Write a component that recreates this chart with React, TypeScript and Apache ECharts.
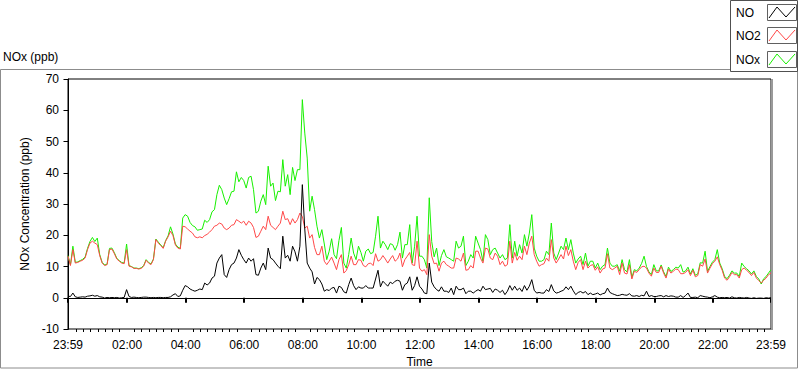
import React, { useEffect, useRef } from "react";
import * as echarts from "echarts";

// Time grid: first sample at 23:59 (-1 min), one sample every 5 minutes up to 23:59 (1439 min)
const TIME_START_MIN = -1;
const TIME_STEP_MIN = 5;

const NO_PPB = [
  0.5, 0.4, 1.5, 0.3, 0.1, 0.2, 0.3, 0.2, 0.5, 0.6,
  0.8, 0.5, 0.7, 0.3, 0.2, -0.1, 0.1, 0.0, 0.1, 0.0,
  0.1, -0.1, 0.0, 0.1, 2.6, 0.4, 0.1, 0.2, 0.1, 0.0,
  0.1, 0.2, 0.2, 0.1, 0.0, 0.1, 0.0, 0.1, 0.1, 0.0,
  0.1, 0.1, 0.3, 0.9, 1.3, 0.4, 0.6, 2.4, 3.9, 3.5,
  2.8, 2.4, 2.1, 2.4, 2.8, 2.6, 4.7, 4.1,
  4.7, 6.3, 6.9, 11.1, 12.7, 13.8, 7.4, 6.5, 9, 10.6,
  11.1, 12.7, 15.4, 13.6, 12.2, 11.1, 12.7, 11.7, 12.5, 7.4,
  7.2, 9.5, 11.1, 9, 15.9, 12.7, 12.2, 11.1, 10.1, 9.3,
  19.7, 12.7, 13.6, 11.7, 16.5, 14.7, 11.7, 16.5, 36.2, 22,
  11.1, 9.5, 8.3, 4.4, 6.5, 5.8, 4.4, 2.1, 2.6, 2.3,
  3.1, 3.3, 1.5, 3.7, 3.3, 1.9, 1.5,
  4.2, 6.3, 3.9, 2.6, 3.5, 3.1, 3.1, 3.9, 3.1, 3.1,
  3.1, 6, 8.8, 3.5, 5.3, 4.5, 3.7, 5, 4.5, 5.3,
  5.6, 5.3, 2.4, 4.2, 4.7, 6.7, 2.4, 3.9, 6.7, 3.7,
  2.8, 1.5, 1.3, 11.1, 5, 3.5, 2.6, 2.1, 3.5, 2.1,
  2.1, 1.7, 3.1, 1, 3.7, 2.6, 2.6, 3.1, 1.3, 2.1,
  2.1, 1.5, 2.1, 2.6, 2.1, 3.7, 2.6, 2.8,
  3, 1.7, 2.8, 2.4, 1.7, 2.4, 1, 2.1, 3.9, 2.4,
  3.7, 2.4, 3.1, 2, 3.9, 2.4, 3.7, 5.8, 2.4, 1.5,
  1.7, 1.5, 1.5, 2.6, 2, 4.2, 2.2, 1.5, 1.7, 2.1,
  2.4, 3.5, 2.6, 3.7, 2.2, 1, 1.7, 2, 1.5, 2,
  1, 1.5, 1, 1.2, 1.5, 0.9, 1.3, 1.5, 3.1, 1.7,
  1.3, 1, 0.7, 0.8, 1.1, 0.9, 0.8,
  1.3, 0.6, 0.5, 0.7, 0.4, 0.8, 0.6, 2.1, 0.4, 0.7,
  0.4, 0.4, 0.6, 0.7, 0.3, 0.7, 0.4, 0.6, 0.5, 0.2,
  0.2, 0.7, 0.1, 0.7, 1.5, 0.1, 0.1, 0.2, 0.0, 0.7,
  0.5, 0.3, 0.2, 0.0, 0.3, 0.7, 0.2, 0.0, 0.1, 0.0,
  0.1, -0.1, 0.3, 0.0, -0.1, 0.1, 0.0, -0.1, 0.1, -0.1,
  -0.2, 0.0, -0.2, -0.1, -0.1, -0.2, 0.0, -0.1, 0.0,
];

const NO2_PPB = [
  13.3, 10.3, 15.4, 11.1, 11.3, 11.7, 12, 12.7, 15.4, 17.5,
  18.1, 17.5, 17, 13.5, 11.1, 10.3, 10.6, 15.4, 15.6, 14.1,
  12.4, 11.7, 11.1, 10.9, 15.4, 10.1, 9.9, 9.4, 9.4, 9.2,
  9.4, 10.1, 12, 11.1, 10.6, 12.2, 18.6, 17.5, 16.7, 15.8,
  18.1, 19.5, 21.3, 19.9, 16.9, 15.9, 15.6, 22.9, 22.7, 22,
  21.3, 20.7, 19.5, 19.2, 19.5, 19.2, 19.9, 20.3,
  21, 21.8, 22.9, 23.2, 23.9, 23.6, 22.3, 21.8, 22.3, 23.2,
  23.4, 25, 24.5, 23.9, 24.5, 23.2, 24.5, 23.9, 22.5, 19.3,
  19.7, 21.3, 22.9, 21.8, 26.1, 23.2, 22.5, 21.8, 22.9, 23.9,
  27.7, 25, 25.3, 23.4, 25.3, 23.9, 25, 27.1, 26, 22.3,
  22.9, 19.1, 20.2, 16.1, 13.8, 13.8, 16.5, 11.7, 10.6, 11.7,
  13, 11.1, 9, 12.2, 13.8, 7.9, 8.7,
  10.6, 13.3, 10.6, 10.6, 12.2, 12, 10.3, 9.9, 10.9, 11.1,
  10.3, 14.1, 11.7, 12.2, 13.5, 12.4, 11.1, 12.4, 13.5, 11.7,
  12.4, 14.3, 9.9, 12.2, 13.3, 14.5, 10.6, 10.3, 18.1, 9.5,
  8.5, 9, 7.4, 20.2, 13.3, 10.9, 11.1, 8.5, 11.1, 11.7,
  10.6, 10.1, 9.5, 9.5, 12.7, 12.4, 11.7, 14.3, 8.8, 9,
  10.3, 9.5, 14.9, 14.9, 12.7, 11.1, 15.9, 15.6,
  12.7, 12.2, 14.3, 13.3, 10.6, 11.7, 10.1, 10.6, 18.1, 11.1,
  14.5, 12, 13.3, 12.2, 16.5, 13.8, 17.5, 19.7, 13.8, 11.7,
  10.1, 10.6, 10.9, 12.7, 11.7, 18.6, 12.7, 11.1, 12.4, 13.8,
  12.4, 16.5, 13.5, 15.4, 11.7, 9, 11.3, 12.2, 9, 11.7,
  9.5, 10.3, 10.6, 8.8, 9.9, 7.9, 9.2, 9.5, 14.1, 9.5,
  9, 9.5, 10.1, 7.4, 11.1, 7.9, 7.6,
  10.6, 6, 8.5, 8.1, 9, 9.9, 10.1, 9.5, 7.9, 6.9,
  9.5, 8.1, 8.1, 10.1, 7.9, 6.3, 9.2, 7.9, 8.5, 9.2,
  9, 7.7, 7.7, 8.1, 9, 7.1, 8.8, 6.7, 7.1, 10.6,
  10.1, 12.4, 7.9, 9.5, 10.9, 11.7, 13.1, 10.6, 8.8, 6.3,
  5.6, 6.7, 8.1, 7.4, 7.4, 6.3, 9, 9.5, 8.8, 8.1,
  7.1, 8.1, 6.3, 5.5, 4.7, 5.6, 6.3, 7.4, 7.9,
];

const NOX_PPB = [
  13.5, 10.5, 16.5, 11.3, 11.5, 11.9, 12.3, 13, 15.8, 18,
  19.3, 18, 19.1, 13.8, 11.3, 10.5, 10.7, 15.8, 15.9, 14.4,
  12.6, 11.9, 11.3, 11.1, 17.2, 10.3, 10, 9.5, 9.5, 9.3,
  9.6, 10.3, 12.2, 11.3, 10.8, 12.4, 18.8, 17.8, 16.9, 16,
  18.3, 19.8, 22.7, 20.4, 17.2, 16.2, 15.8, 25.5, 26.6, 26.1,
  24.1, 23.1, 22.7, 21.6, 21.8, 22, 24.8, 24.1,
  25, 27.5, 28.2, 33, 36, 34.6, 31.9, 29.8, 31.7, 33.9,
  34.1, 40.3, 37.1, 38.5, 37.5, 35.1, 38.5, 38.9, 34.6, 27.1,
  27.7, 30.9, 33, 29.8, 42.1, 35.7, 36.7, 31.1, 34.1, 33.9,
  44.2, 35.7, 39.4, 33, 41.7, 37.5, 41, 41, 63.4, 52.7,
  44.7, 27.7, 32.5, 28.2, 22.9, 19.1, 21.8, 17.2, 12.2, 14.9,
  18.9, 13.8, 12.5, 18.3, 22.5, 11.1, 9.5,
  13.8, 19.1, 14.3, 12.2, 16.5, 14.5, 11.7, 14.9, 15.6, 14.1,
  14.5, 19.7, 26.1, 15.9, 18.1, 17, 15.4, 17.3, 17, 15.2,
  17, 21, 12.7, 17, 17, 23.4, 11.1, 16.5, 26.1, 13.3,
  13.3, 12.2, 9.5, 32, 18, 13.1, 15.9, 10.3, 13.5, 15.4,
  13.1, 12.7, 12.2, 11.7, 18.1, 15.9, 16.5, 19.7, 10.3, 11.7,
  13.8, 12.7, 19.7, 17.5, 15.4, 11.7, 20.2, 18.6,
  13.8, 15.4, 15.9, 14.3, 12.7, 13.8, 12.2, 12.7, 23.4, 12.7,
  18.1, 13.3, 17, 14.3, 20.2, 16.5, 20.7, 26.6, 15.9, 13.3,
  11.7, 11.7, 12.2, 14.9, 13.8, 23.9, 14.3, 12.2, 14.3, 16.5,
  15.4, 19.1, 15.4, 18.6, 14.3, 11.1, 12.4, 13.3, 10.6, 14.3,
  10.1, 11.7, 11.7, 9.5, 11.1, 9, 10.1, 10.6, 15.9, 11.1,
  10.1, 10.1, 10.6, 8.5, 12.2, 9, 8.3,
  12.2, 6.5, 9, 8.6, 9.5, 11, 13.3, 10, 8.3, 7.4,
  10.6, 8.6, 8.6, 10.5, 8.3, 6.8, 9.8, 8.4, 9, 9.8,
  9.5, 10.6, 8.2, 8.6, 9.8, 7.6, 9.3, 7.2, 7.6, 11.2,
  11.1, 14.9, 8.4, 10, 11.4, 12.2, 15.4, 11.1, 9.3, 6.8,
  6.1, 7.2, 8.6, 7.9, 7.9, 6.8, 11.1, 10, 9.3, 8.6,
  7.6, 8.6, 6.8, 6, 4.4, 6.1, 6.8, 7.9, 9,
];

const TICK_MINUTES = [-1, 120, 240, 360, 480, 600, 720, 840, 960, 1080, 1200, 1320, 1439];
const TICK_LABELS = ["23:59", "02:00", "04:00", "06:00", "08:00", "10:00", "12:00", "14:00", "16:00", "18:00", "20:00", "22:00", "23:59"];

const SERIES_NAMES = ["NO", "NO2", "NOx"];
const SERIES_COLORS = ["#000000", "#ff4848", "#18f000"];

const FONT = "'Liberation Sans', Arial, sans-serif";

function toPoints(values: number[]) {
  return values.map((v, i) => [TIME_START_MIN + i * TIME_STEP_MIN, v]);
}

export default function App() {
  const ref = useRef<HTMLDivElement>(null);

  useEffect(() => {
    if (!ref.current) return;
    const chart = echarts.init(ref.current, null, { renderer: "svg" });

    const minorTicks: number[] = [];
    for (let m = 15; m < 1440; m += 15) {
      if (m % 120 !== 0) minorTicks.push(m);
    }

    const legendRows = [0, 23, 47];
    const legendGraphics: any[] = [
      {
        type: "rect",
        shape: { x: 730.5, y: 0.5, width: 67, height: 71 },
        style: { fill: "#ffffff", stroke: "#505050", lineWidth: 1 },
        z: 10,
      },
    ];
    SERIES_NAMES.forEach((name, k) => {
      const dy = legendRows[k];
      legendGraphics.push(
        {
          type: "text",
          x: 736,
          y: 13 + dy,
          style: {
            text: name,
            fill: "#000",
            font: `12px ${FONT}`,
            verticalAlign: "middle",
          },
          z: 11,
        },
        {
          type: "rect",
          shape: { x: 767.5, y: 4.5 + dy, width: 29, height: 16 },
          style: { fill: "#ffffff", stroke: "#606060", lineWidth: 1 },
          z: 11,
        },
        {
          type: "polyline",
          shape: {
            points: [
              [769, 18 + dy],
              [777, 7 + dy],
              [786, 17 + dy],
              [795, 7 + dy],
            ],
          },
          style: { stroke: SERIES_COLORS[k], lineWidth: 1, fill: "none" },
          z: 12,
        }
      );
    });

    const option: any = {
      animation: false,
      backgroundColor: "#ffffff",
      textStyle: { fontFamily: FONT },
      title: {
        text: "NOx (ppb)",
        left: 3,
        top: 51,
        padding: 0,
        textStyle: { fontSize: 12, fontWeight: "normal", color: "#000", fontFamily: FONT },
      },
      grid: {
        left: 68,
        right: 29,
        top: 79,
        bottom: 40,
        containLabel: false,
        outerBoundsMode: "none",
        show: true,
        borderColor: "#000",
        borderWidth: 1,
        backgroundColor: "#ffffff",
      },
      xAxis: [
        {
          type: "value",
          min: -1,
          max: 1439,
          name: "Time",
          nameLocation: "middle",
          nameGap: 24,
          nameTextStyle: { fontSize: 12, color: "#000", fontFamily: FONT },
          splitLine: { show: false },
          axisLine: { show: true, lineStyle: { color: "#000", width: 1 } },
          axisTick: {
            show: true,
            customValues: TICK_MINUTES,
            length: 5,
            lineStyle: { color: "#000", width: 2 },
          },
          axisLabel: {
            show: true,
            customValues: TICK_MINUTES,
            showMinLabel: true,
            showMaxLabel: true,
            hideOverlap: false,
            margin: 10,
            fontSize: 12,
            color: "#000",
            fontFamily: FONT,
            formatter: (v: number) => {
              const idx = TICK_MINUTES.indexOf(Math.round(v));
              return idx >= 0 ? TICK_LABELS[idx] : "";
            },
          },
        },
        {
          type: "value",
          min: -1,
          max: 1439,
          position: "bottom",
          splitLine: { show: false },
          axisLine: { show: false },
          axisLabel: { show: false },
          axisTick: {
            show: true,
            customValues: minorTicks,
            length: 3,
            lineStyle: { color: "#000", width: 1 },
          },
        },
      ],
      yAxis: {
        type: "value",
        min: -10,
        max: 70,
        interval: 10,
        name: "NOx Concentration (ppb)",
        nameLocation: "middle",
        nameRotate: 90,
        nameGap: 27,
        nameTextStyle: { fontSize: 12, color: "#000", fontFamily: FONT },
        splitLine: { show: false },
        axisLine: { show: true, lineStyle: { color: "#000", width: 1 } },
        axisTick: { show: true, length: 5, lineStyle: { color: "#000", width: 1 } },
        axisLabel: { fontSize: 12, color: "#000", margin: 9, fontFamily: FONT },
      },
      graphic: [
        {
          type: "rect",
          shape: { x: 0.5, y: 69.5, width: 797, height: 298.5 },
          style: { fill: "none", stroke: "#8c8c8c", lineWidth: 1 },
          z: 1,
        },
        {
          type: "line",
          shape: { x1: 772, y1: 79, x2: 772, y2: 330 },
          style: { stroke: "#9a9a9a", lineWidth: 2 },
          z: 9,
        },
        ...legendGraphics,
      ],
      series: [
        {
          name: SERIES_NAMES[2],
          type: "line",
          data: toPoints(NOX_PPB),
          showSymbol: false,
          symbol: "none",
          lineStyle: { color: SERIES_COLORS[2], width: 1 },
          itemStyle: { color: SERIES_COLORS[2] },
          z: 2,
        },
        {
          name: SERIES_NAMES[1],
          type: "line",
          data: toPoints(NO2_PPB),
          showSymbol: false,
          symbol: "none",
          lineStyle: { color: SERIES_COLORS[1], width: 1 },
          itemStyle: { color: SERIES_COLORS[1] },
          z: 3,
        },
        {
          name: SERIES_NAMES[0],
          type: "line",
          data: toPoints(NO_PPB),
          showSymbol: false,
          symbol: "none",
          lineStyle: { color: SERIES_COLORS[0], width: 1 },
          itemStyle: { color: SERIES_COLORS[0] },
          z: 4,
        },
      ],
    };

    chart.setOption(option);
    return () => {
      chart.dispose();
    };
  }, []);

  return (
    <div
      ref={ref}
      style={{ position: "fixed", left: 0, top: 0, width: 800, height: 369, background: "#fff" }}
    />
  );
}
